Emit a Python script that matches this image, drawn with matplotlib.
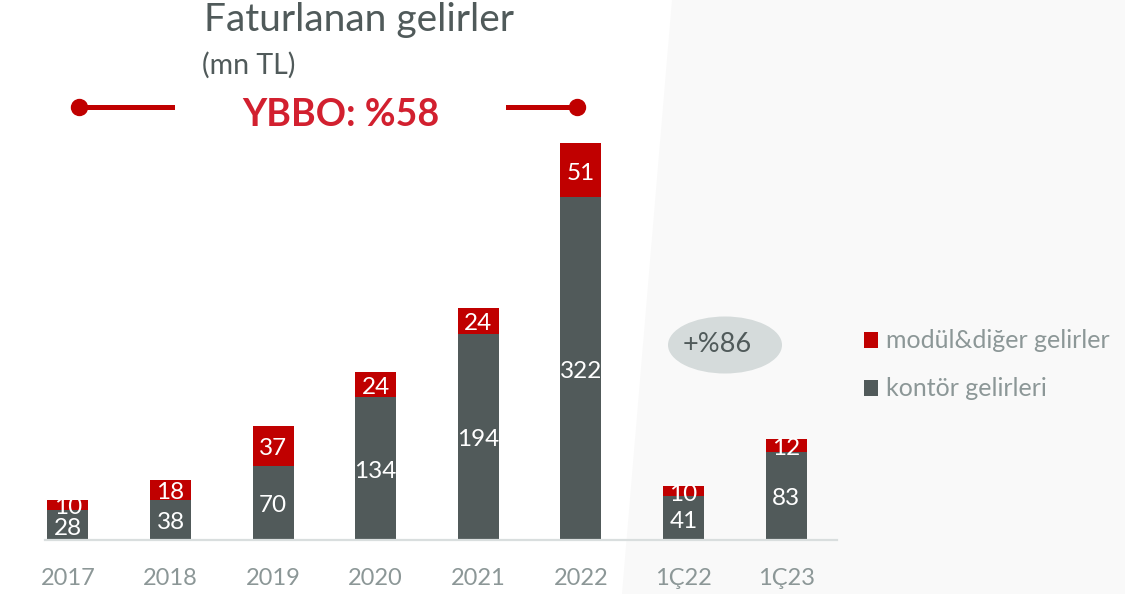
import matplotlib
matplotlib.use("Agg")
import matplotlib.pyplot as plt
from matplotlib.patches import Polygon, Rectangle, Ellipse
from matplotlib.lines import Line2D
from matplotlib.transforms import offset_copy

plt.rcParams['font.family'] = ['Lato', 'DejaVu Sans']

categories = ["2017", "2018", "2019", "2020", "2021", "2022", "1Ç22", "1Ç23"]
kontor = [28, 38, 70, 134, 194, 322, 41, 83]
modul = [10, 18, 37, 24, 24, 51, 10, 12]
series_names = ["modül&diğer gelirler", "kontör gelirleri"]
title = "Faturlanan gelirler"
subtitle = "(mn TL)"
cagr_text = "YBBO: %58"
growth_text = "+%86"

W, H = 1125, 594
RED = "#c00000"
GRAY = "#515a5a"
TXT_GRAY = "#8c9797"
DARK = "#505a5a"

def fx(px):
    return px / W

def fy(py):
    return 1 - py / H

fig = plt.figure(figsize=(W / 100, H / 100), dpi=100)
fig.patch.set_facecolor("white")

# light slanted background panel
fig.patches.append(Polygon([(fx(672), 1), (1, 1), (1, 0), (fx(622), 0)],
                           closed=True, transform=fig.transFigure,
                           facecolor="#f9f9f9", edgecolor="none", zorder=-5))

ax = fig.add_axes([fx(45), fy(540), fx(837) - fx(45), (540 - 100) / H])
ax.set_facecolor("none")
x = list(range(len(categories)))
bw = 0.40
ax.bar(x, kontor, width=bw, color=GRAY, zorder=2)
ax.bar(x, modul, width=bw, bottom=kontor, color=RED, zorder=2)
lab_tr = offset_copy(ax.transData, fig=fig, x=0, y=-3, units="dots")
for xi, b, t in zip(x, kontor, modul):
    ax.text(xi, b / 2, str(b), ha="center", va="center", color="white", fontsize=17.5,
            zorder=3, transform=lab_tr)
    ax.text(xi, b + t / 2, str(t), ha="center", va="center", color="white", fontsize=17.5,
            zorder=3, transform=lab_tr)

ax.set_xlim(-0.224, 7.497)
ax.set_ylim(0, 440 / 1.064)
for s in ["top", "left", "right"]:
    ax.spines[s].set_visible(False)
ax.spines["bottom"].set_color("#d9dede")
ax.spines["bottom"].set_linewidth(1.6)
ax.set_yticks([])
ax.set_xticks(x, categories)
ax.tick_params(axis="x", length=0, pad=20, labelsize=17, labelcolor=TXT_GRAY)

# titles
fig.text(fx(204), fy(20), title, fontsize=28, color=DARK, ha="left", va="center")
fig.text(fx(202), fy(65), subtitle, fontsize=20.5, color=DARK, ha="left", va="center")
fig.text(fx(341), fy(115), cagr_text, fontsize=27, fontweight="bold", color="#d2202f",
         ha="center", va="center")

# decorative lines with dots
fig.add_artist(Line2D([fx(79), fx(172)], [fy(107), fy(107)], transform=fig.transFigure,
                      color=RED, linewidth=3.6, marker="o", markersize=11.5, markevery=[0]))
fig.add_artist(Line2D([fx(577), fx(508)], [fy(107), fy(107)], transform=fig.transFigure,
                      color=RED, linewidth=3.6, marker="o", markersize=11.5, markevery=[0]))

# growth ellipse
fig.patches.append(Ellipse((fx(725), fy(345)), 114 / W, 57 / H, transform=fig.transFigure,
                           facecolor="#d5dbdb", edgecolor="none", zorder=1))
fig.text(fx(717), fy(345), growth_text, fontsize=19.5, color=DARK, ha="center", va="center", zorder=2)

# legend
leg_colors = [RED, GRAY]
leg_y = [340, 388]
for c, yy, name in zip(leg_colors, leg_y, series_names):
    fig.patches.append(Rectangle((fx(864), fy(yy + 8)), 14 / W, 16 / H, transform=fig.transFigure,
                                 facecolor=c, edgecolor="none"))
    fig.text(fx(886), fy(yy), name, fontsize=18, color=TXT_GRAY, ha="left", va="center")

fig.savefig("out.png", dpi=100)
